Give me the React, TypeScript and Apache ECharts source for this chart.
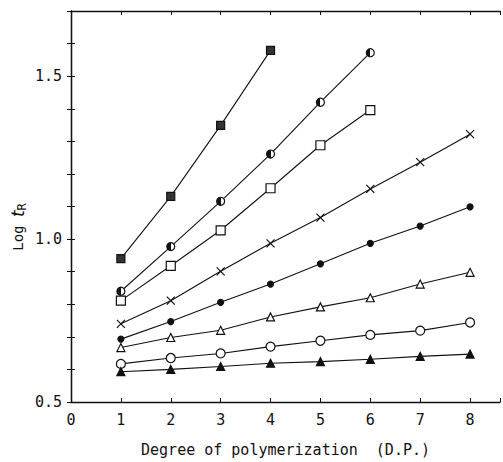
import React, { useEffect, useRef } from "react";
import * as echarts from "echarts";

const dp = [1, 2, 3, 4, 5, 6, 7, 8];
const sFilledSquare = [0.94, 1.131, 1.349, 1.579];
const sHalfCircle = [0.84, 0.977, 1.116, 1.261, 1.42, 1.572];
const sOpenSquare = [0.811, 0.918, 1.027, 1.156, 1.288, 1.396];
const sCross = [0.74, 0.811, 0.901, 0.987, 1.066, 1.154, 1.236, 1.322];
const sFilledCircle = [0.693, 0.747, 0.806, 0.862, 0.924, 0.987, 1.04, 1.099];
const sOpenTriangle = [0.667, 0.698, 0.72, 0.761, 0.792, 0.82, 0.862, 0.898];
const sOpenCircle = [0.617, 0.635, 0.649, 0.67, 0.688, 0.706, 0.719, 0.744];
const sFilledTriangle = [0.593, 0.6, 0.609, 0.619, 0.624, 0.631, 0.64, 0.647];

const xTitle = "Degree of polymerization  (D.P.)";
const FONT = "DejaVu Sans Mono";

export default function App() {
  const ref = useRef<HTMLDivElement>(null);
  useEffect(() => {
    const chart = echarts.init(ref.current!, null, { renderer: "svg" });
    const pair = (vals: number[]) => vals.map((v, i) => [dp[i], v]);
    const halfFill = new echarts.graphic.LinearGradient(0, 0, 1, 0, [
      { offset: 0, color: "#111" },
      { offset: 0.5, color: "#111" },
      { offset: 0.5, color: "#fff" },
      { offset: 1, color: "#fff" },
    ]);
    const mk = (
      name: string,
      vals: number[],
      symbol: string,
      size: number,
      fill: any,
      bw = 1.2
    ) => ({
      name,
      type: "line",
      data: pair(vals),
      symbol,
      symbolSize: size,
      showAllSymbol: true,
      lineStyle: { color: "#111", width: 1.1 },
      itemStyle: { color: fill, borderColor: "#111", borderWidth: bw },
      z: 3,
    });
    const crossPath = "path://M0,0L10,10M10,0L0,10";
    const axisCommon = {
      type: "value",
      axisLine: { show: true, lineStyle: { color: "#111", width: 1.3 } },
      axisTick: { show: true, inside: true, length: 4, lineStyle: { color: "#111" } },
      splitLine: { show: false },
    };
    chart.setOption({
      animation: false,
      backgroundColor: "#fff",
      grid: { left: 71, right: 3, top: 11, bottom: 56, containLabel: false },
      xAxis: [
        {
          ...axisCommon,
          position: "bottom",
          min: 0,
          max: 8.6,
          interval: 1,
          name: xTitle,
          nameLocation: "middle",
          nameGap: 40,
          nameTextStyle: { fontFamily: FONT, fontSize: 15, color: "#111" },
          axisLabel: {
            fontFamily: FONT,
            fontSize: 15,
            color: "#111",
            margin: 10,
            formatter: (v: number) => (Math.abs(v - Math.round(v)) < 1e-6 ? String(Math.round(v)) : ""),
          },
        },
        {
          ...axisCommon,
          position: "top",
          min: 0,
          max: 8.6,
          interval: 1,
          axisLabel: { show: false },
        },
      ],
      yAxis: [
        {
          ...axisCommon,
          position: "left",
          min: 0.5,
          max: 1.7,
          interval: 0.1,
          axisLabel: {
            fontFamily: FONT,
            fontSize: 15,
            color: "#111",
            margin: 9,
            formatter: (v: number) => (Math.round(v * 10) % 5 === 0 ? v.toFixed(1) : ""),
          },
        },
        {
          ...axisCommon,
          position: "right",
          min: 0.5,
          max: 1.7,
          interval: 0.1,
          axisLabel: { show: false },
        },
      ],
      graphic: [
        {
          type: "text",
          x: 18,
          y: 227,
          rotation: Math.PI / 2,
          style: {
            text: "{a|Log }{b|t}{c|R}",
            fill: "#111",
            align: "center",
            verticalAlign: "middle",
            rich: {
              a: { fontFamily: FONT, fontSize: 14, fill: "#111" },
              b: { fontFamily: "DejaVu Sans", fontSize: 17, fontStyle: "italic", fill: "#111" },
              c: { fontFamily: FONT, fontSize: 12, fill: "#111", padding: [8, 0, 0, 0] },
            },
          },
        },
      ],
      series: [
        mk("filledSquare", sFilledSquare, "rect", 8, "#333"),
        mk("halfCircle", sHalfCircle, "circle", 8, halfFill),
        mk("openSquare", sOpenSquare, "rect", 9, "#fff"),
        mk("cross", sCross, crossPath, 8, "none", 1.2),
        mk("filledCircle", sFilledCircle, "circle", 6, "#111"),
        mk("openTriangle", sOpenTriangle, "triangle", 8, "#fff"),
        mk("openCircle", sOpenCircle, "circle", 9, "#fff"),
        mk("filledTriangle", sFilledTriangle, "triangle", 8, "#111"),
      ],
    });
    return () => chart.dispose();
  }, []);
  return (
    <div
      ref={ref}
      style={{ position: "fixed", left: 0, top: 0, width: 503, height: 462 }}
    />
  );
}
